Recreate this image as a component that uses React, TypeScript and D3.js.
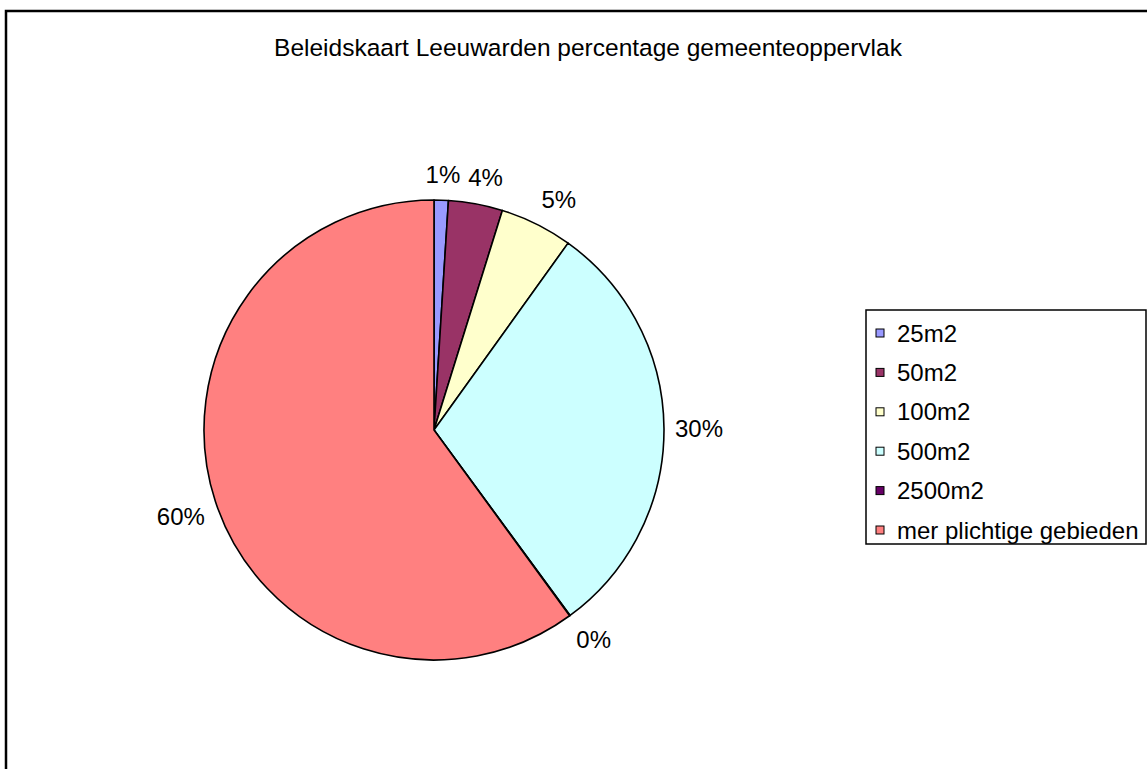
import * as d3 from "d3";

// chart data
const categories = ["25m2", "50m2", "100m2", "500m2", "2500m2", "mer plichtige gebieden"];
const shares = [1.0, 3.8, 5.1, 30.0, 0.04, 60.0];
const sliceColors = ["#9999FF", "#993366", "#FFFFCC", "#CCFFFF", "#660066", "#FF8080"];
const title = "Beleidskaart Leeuwarden percentage gemeenteoppervlak";

const W = 1147;
const H = 769;
const FONT = "'Liberation Sans', Arial, sans-serif";

type Slice = { name: string; value: number; color: string };

const data: Slice[] = categories.map((name, i) => ({ name, value: shares[i], color: sliceColors[i] }));

const clamp = (v: number) => Math.max(-1, Math.min(1, v));

export default function App() {
  const cx = 434;
  const cy = 430;
  const R = 230;

  const pie = d3.pie<Slice>().value((d) => d.value).sort(null);
  const arcs = pie(data);
  const arc = d3.arc<d3.PieArcDatum<Slice>>().innerRadius(0).outerRadius(R);

  const total = d3.sum(shares);
  const labelFont = 24;
  const gap = 11;

  // legend layout
  const legX = 866;
  const legY = 310;
  const legW = 280;
  const legH = 234;
  const row = d3.scalePoint<string>().domain(categories).range([legY + 23, legY + 220]);

  return (
    <svg
      width={W}
      height={H}
      style={{ position: "absolute", left: 0, top: 0, background: "#fff" }}
      fontFamily={FONT}
    >
      <rect x={6} y={11} width={1300} height={900} fill="#fff" stroke="#000" strokeWidth={2.5} />

      <text x={588} y={56} textAnchor="middle" fontSize={24.5} fill="#000">
        {title}
      </text>

      <g transform={`translate(${cx},${cy})`}>
        {arcs.map((a) => (
          <path key={a.data.name} d={arc(a) ?? ""} fill={a.data.color} stroke="#000" strokeWidth={1.6} strokeLinejoin="round" />
        ))}
        {arcs.map((a) => {
          const mid = (a.startAngle + a.endAngle) / 2;
          const sx = Math.sin(mid);
          const sy = -Math.cos(mid);
          const txt = `${Math.round((a.data.value / total) * 100)}%`;
          // half-size of the label box (digits .556em, % .889em)
          const halfW = ((txt.length - 1) * 0.556 + 0.889) * labelFont / 2;
          const halfH = 15;
          const x = (R + gap) * sx + halfW * clamp(sx * 2.5);
          const y = (R + gap) * sy + halfH * clamp(sy * 2.5);
          return (
            <text
              key={`l-${a.data.name}`}
              x={x}
              y={y}
              dy="0.35em"
              textAnchor="middle"
              fontSize={labelFont}
              fill="#000"
            >
              {txt}
            </text>
          );
        })}
      </g>

      <g>
        <rect x={legX} y={legY} width={legW} height={legH} fill="#fff" stroke="#000" strokeWidth={1.5} />
        {data.map((d) => {
          const y = row(d.name) ?? 0;
          return (
            <g key={`leg-${d.name}`} transform={`translate(${legX + 10},${y})`}>
              <rect x={0} y={-4} width={8} height={8} fill={d.color} stroke="#000" strokeWidth={1} />
              <text x={21} y={0} dy="0.36em" fontSize={24} fill="#000">
                {d.name}
              </text>
            </g>
          );
        })}
      </g>
    </svg>
  );
}
